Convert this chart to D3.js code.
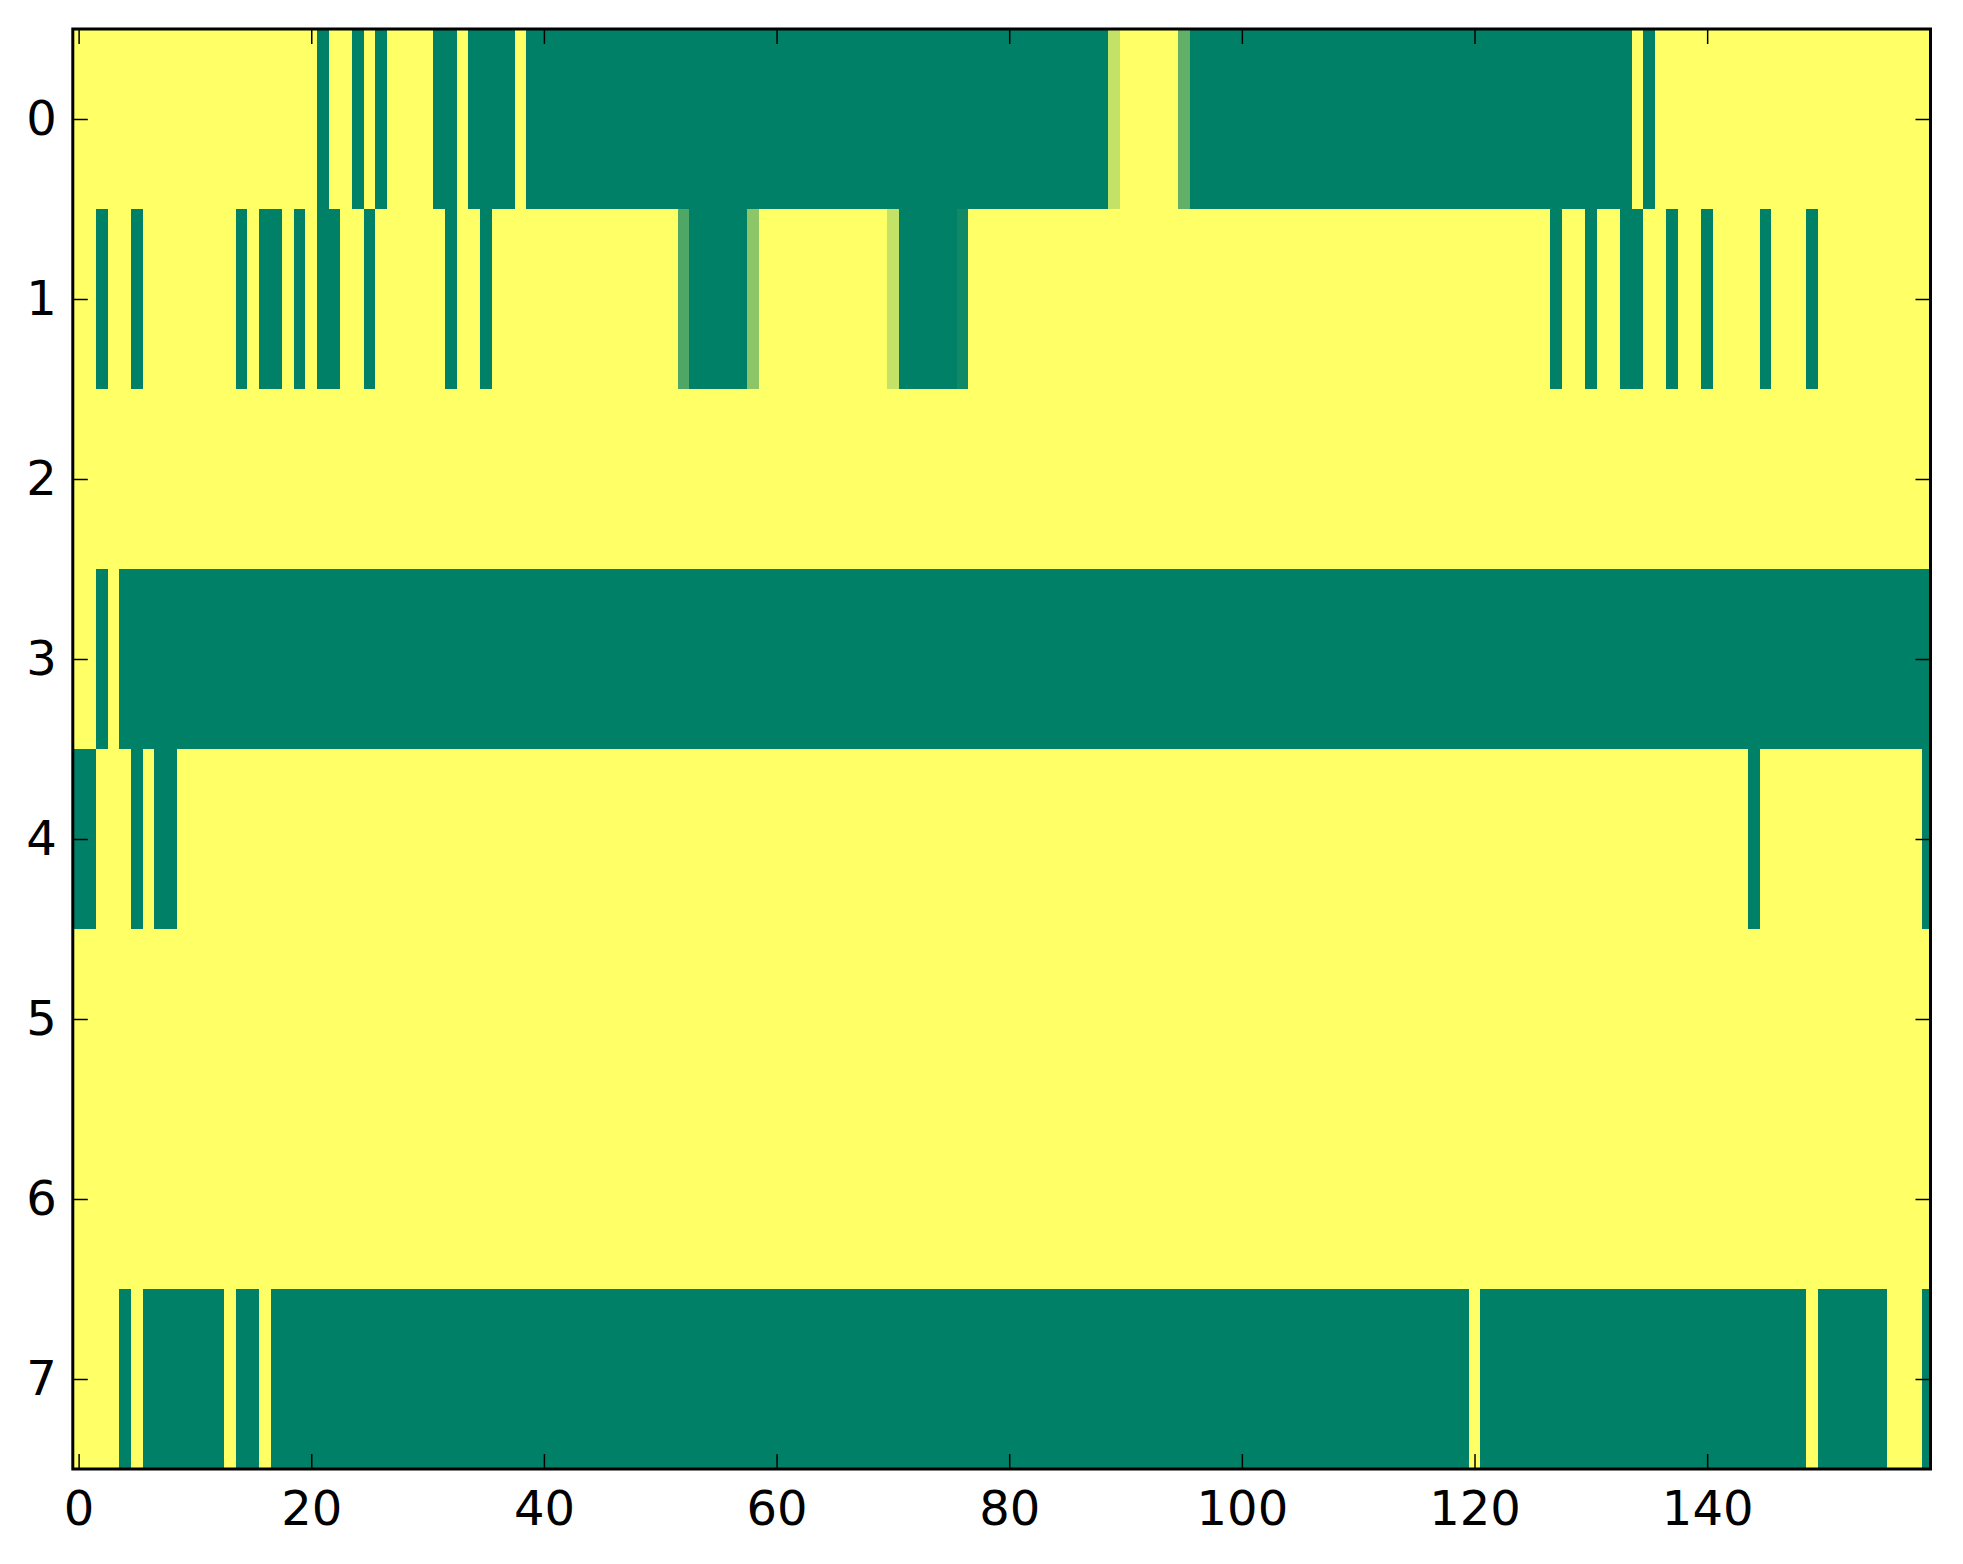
<!DOCTYPE html>
<html lang="en">
<head>
    <meta charset="UTF-8">
    <title>Document</title>
    <style>
        body { margin: 0; background: #fff; }
        text { font-family: "DejaVu Sans", sans-serif; }
    </style>
</head>
<body>
    <svg width="1963" height="1564" id="svg"></svg>
    <script src="https://d3js.org/d3.v7.min.js"></script>
    <script>
        // one array per image row, 160 columns each (0 = green end, 1 = yellow end)
        let row0 = [
            1,1,1,1,1,1,1,1,1,1,1,1,1,1,1,1,1,1,1,1,
            1,0,1,1,0,1,0,1,1,1,1,0,0,1,0,0,0,0,1,0,
            0,0,0,0,0,0,0,0,0,0,0,0,0,0,0,0,0,0,0,0,
            0,0,0,0,0,0,0,0,0,0,0,0,0,0,0,0,0,0,0,0,
            0,0,0,0,0,0,0,0,0,0.77,1,1,1,1,1,0.38,0,0,0,0,
            0,0,0,0,0,0,0,0,0,0,0,0,0,0,0,0,0,0,0,0,
            0,0,0,0,0,0,0,0,0,0,0,0,0,0,1,0,1,1,1,1,
            1,1,1,1,1,1,1,1,1,1,1,1,1,1,1,1,1,1,1,1
        ]
        let row1 = [
            1,1,0,1,1,0,1,1,1,1,1,1,1,1,0,1,0,0,1,0,
            1,0,0,1,1,0,1,1,1,1,1,1,0,1,1,0,1,1,1,1,
            1,1,1,1,1,1,1,1,1,1,1,1,0.31,0,0,0,0,0,0.55,1,
            1,1,1,1,1,1,1,1,1,1,0.77,0,0,0,0,0,0.07,1,1,1,
            1,1,1,1,1,1,1,1,1,1,1,1,1,1,1,1,1,1,1,1,
            1,1,1,1,1,1,1,1,1,1,1,1,1,1,1,1,1,1,1,1,
            1,1,1,1,1,1,1,0,1,1,0,1,1,0,0,1,1,0,1,1,
            0,1,1,1,1,0,1,1,1,0,1,1,1,1,1,1,1,1,1,1
        ]
        let row2 = [
            1,1,1,1,1,1,1,1,1,1,1,1,1,1,1,1,1,1,1,1,
            1,1,1,1,1,1,1,1,1,1,1,1,1,1,1,1,1,1,1,1,
            1,1,1,1,1,1,1,1,1,1,1,1,1,1,1,1,1,1,1,1,
            1,1,1,1,1,1,1,1,1,1,1,1,1,1,1,1,1,1,1,1,
            1,1,1,1,1,1,1,1,1,1,1,1,1,1,1,1,1,1,1,1,
            1,1,1,1,1,1,1,1,1,1,1,1,1,1,1,1,1,1,1,1,
            1,1,1,1,1,1,1,1,1,1,1,1,1,1,1,1,1,1,1,1,
            1,1,1,1,1,1,1,1,1,1,1,1,1,1,1,1,1,1,1,1
        ]
        let row3 = [
            1,1,0,1,0,0,0,0,0,0,0,0,0,0,0,0,0,0,0,0,
            0,0,0,0,0,0,0,0,0,0,0,0,0,0,0,0,0,0,0,0,
            0,0,0,0,0,0,0,0,0,0,0,0,0,0,0,0,0,0,0,0,
            0,0,0,0,0,0,0,0,0,0,0,0,0,0,0,0,0,0,0,0,
            0,0,0,0,0,0,0,0,0,0,0,0,0,0,0,0,0,0,0,0,
            0,0,0,0,0,0,0,0,0,0,0,0,0,0,0,0,0,0,0,0,
            0,0,0,0,0,0,0,0,0,0,0,0,0,0,0,0,0,0,0,0,
            0,0,0,0,0,0,0,0,0,0,0,0,0,0,0,0,0,0,0,0
        ]
        let row4 = [
            0,0,1,1,1,0,1,0,0,1,1,1,1,1,1,1,1,1,1,1,
            1,1,1,1,1,1,1,1,1,1,1,1,1,1,1,1,1,1,1,1,
            1,1,1,1,1,1,1,1,1,1,1,1,1,1,1,1,1,1,1,1,
            1,1,1,1,1,1,1,1,1,1,1,1,1,1,1,1,1,1,1,1,
            1,1,1,1,1,1,1,1,1,1,1,1,1,1,1,1,1,1,1,1,
            1,1,1,1,1,1,1,1,1,1,1,1,1,1,1,1,1,1,1,1,
            1,1,1,1,1,1,1,1,1,1,1,1,1,1,1,1,1,1,1,1,
            1,1,1,1,0,1,1,1,1,1,1,1,1,1,1,1,1,1,1,0
        ]
        let row5 = [
            1,1,1,1,1,1,1,1,1,1,1,1,1,1,1,1,1,1,1,1,
            1,1,1,1,1,1,1,1,1,1,1,1,1,1,1,1,1,1,1,1,
            1,1,1,1,1,1,1,1,1,1,1,1,1,1,1,1,1,1,1,1,
            1,1,1,1,1,1,1,1,1,1,1,1,1,1,1,1,1,1,1,1,
            1,1,1,1,1,1,1,1,1,1,1,1,1,1,1,1,1,1,1,1,
            1,1,1,1,1,1,1,1,1,1,1,1,1,1,1,1,1,1,1,1,
            1,1,1,1,1,1,1,1,1,1,1,1,1,1,1,1,1,1,1,1,
            1,1,1,1,1,1,1,1,1,1,1,1,1,1,1,1,1,1,1,1
        ]
        let row6 = [
            1,1,1,1,1,1,1,1,1,1,1,1,1,1,1,1,1,1,1,1,
            1,1,1,1,1,1,1,1,1,1,1,1,1,1,1,1,1,1,1,1,
            1,1,1,1,1,1,1,1,1,1,1,1,1,1,1,1,1,1,1,1,
            1,1,1,1,1,1,1,1,1,1,1,1,1,1,1,1,1,1,1,1,
            1,1,1,1,1,1,1,1,1,1,1,1,1,1,1,1,1,1,1,1,
            1,1,1,1,1,1,1,1,1,1,1,1,1,1,1,1,1,1,1,1,
            1,1,1,1,1,1,1,1,1,1,1,1,1,1,1,1,1,1,1,1,
            1,1,1,1,1,1,1,1,1,1,1,1,1,1,1,1,1,1,1,1
        ]
        let row7 = [
            1,1,1,1,0,1,0,0,0,0,0,0,0,1,0,0,1,0,0,0,
            0,0,0,0,0,0,0,0,0,0,0,0,0,0,0,0,0,0,0,0,
            0,0,0,0,0,0,0,0,0,0,0,0,0,0,0,0,0,0,0,0,
            0,0,0,0,0,0,0,0,0,0,0,0,0,0,0,0,0,0,0,0,
            0,0,0,0,0,0,0,0,0,0,0,0,0,0,0,0,0,0,0,0,
            0,0,0,0,0,0,0,0,0,0,0,0,0,0,0,0,0,0,0,0,
            1,0,0,0,0,0,0,0,0,0,0,0,0,0,0,0,0,0,0,0,
            0,0,0,0,0,0,0,0,0,1,0,0,0,0,0,0,1,1,1,0
        ]
        let rows = [row0, row1, row2, row3, row4, row5, row6, row7]
        let xTicks = [0, 20, 40, 60, 80, 100, 120, 140]
        let yTicks = [0, 1, 2, 3, 4, 5, 6, 7]

        // plot box (window.top is taken, so prefixed names)
        var svg = d3.select("svg"),
            plotLeft = 72.8, plotRight = 1930.5,
            plotTop = 29, plotBottom = 1469

        // x limit stops a bit short of the last column, like the original
        var x = d3.scaleLinear().domain([-0.5, 159.2]).range([plotLeft, plotRight])
        var y = d3.scaleLinear().domain([-0.5, 7.5]).range([plotTop, plotBottom])

        // "summer" colormap: green -> yellow
        var color = d3.scaleLinear().domain([0, 1]).range(["#008066", "#ffff66"])

        var cells = []
        rows.forEach(function (r, i) {
            r.forEach(function (v, j) { cells.push({row: i, col: j, value: v}) })
        })

        svg.append("clipPath").attr("id", "plot")
            .append("rect")
            .attr("x", plotLeft).attr("y", plotTop)
            .attr("width", plotRight - plotLeft).attr("height", plotBottom - plotTop)

        svg.append("g")
            .attr("clip-path", "url(#plot)")
            .attr("shape-rendering", "crispEdges")
            .selectAll("rect")
            .data(cells)
            .enter()
            .append("rect")
            .attr("x", function (d) { return x(d.col - 0.5) })
            .attr("y", function (d) { return y(d.row - 0.5) })
            .attr("width", function (d) { return x(d.col + 0.5) - x(d.col - 0.5) + 0.3 })
            .attr("height", function (d) { return y(d.row + 0.5) - y(d.row - 0.5) + 0.3 })
            .attr("fill", function (d) { return color(d.value) })

        // ticks point inwards on all four sides, labels only bottom + left
        var tickLen = 15

        svg.append("g")
            .attr("transform", "translate(0," + plotBottom + ")")
            .call(d3.axisBottom(x).tickValues(xTicks).tickSizeInner(-tickLen).tickSizeOuter(0).tickPadding(22))
        svg.append("g")
            .attr("transform", "translate(" + plotLeft + ",0)")
            .call(d3.axisLeft(y).tickValues(yTicks).tickSizeInner(-tickLen).tickSizeOuter(0).tickPadding(16))
        svg.append("g")
            .attr("transform", "translate(0," + plotTop + ")")
            .call(d3.axisTop(x).tickValues(xTicks).tickSizeInner(-tickLen).tickSizeOuter(0).tickFormat(""))
        svg.append("g")
            .attr("transform", "translate(" + plotRight + ",0)")
            .call(d3.axisRight(y).tickValues(yTicks).tickSizeInner(-tickLen).tickSizeOuter(0).tickFormat(""))

        svg.selectAll(".domain").remove()
        svg.selectAll(".tick line").attr("stroke", "#000").attr("stroke-width", 1.5)
        svg.selectAll(".tick text")
            .attr("fill", "#000")
            .style("font-family", "'DejaVu Sans', sans-serif")
            .style("font-size", "48px")

        // frame
        svg.append("rect")
            .attr("x", plotLeft).attr("y", plotTop)
            .attr("width", plotRight - plotLeft).attr("height", plotBottom - plotTop)
            .attr("fill", "none")
            .attr("stroke", "#000")
            .attr("stroke-width", 3)
    </script>
</body>
</html>
